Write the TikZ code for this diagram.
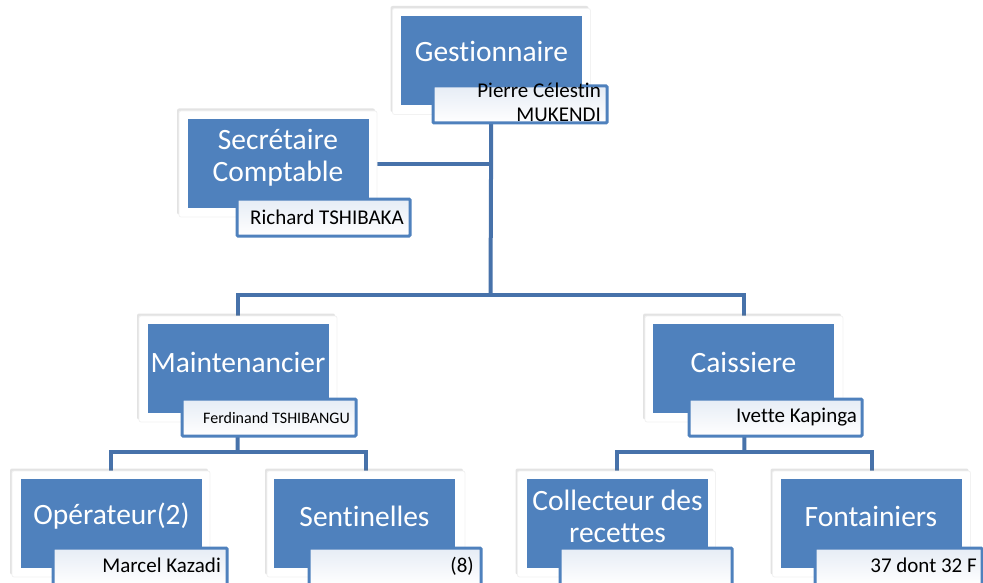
\documentclass[tikz,border=0pt]{standalone}
\usepackage{fontspec}
\setmainfont[Ligatures=NoCommon]{Carlito}
\usetikzlibrary{backgrounds,shadows}
\definecolor{boxblue}{HTML}{4F81BD}
\definecolor{connblue}{HTML}{4772AA}
\definecolor{namefill}{HTML}{E6ECF5}
\tikzset{
  frame/.style={rectangle, fill=white, draw=gray!10, line width=0.8pt, rounded corners=2pt,
    minimum width=198pt, minimum height=106pt, inner sep=0pt, outer sep=0pt,
    drop shadow={shadow xshift=-2pt, shadow yshift=2.5pt, opacity=0.18, fill=black!60}},
  bluebox/.style={rectangle, fill=boxblue, minimum width=181pt, minimum height=89pt, inner sep=0pt, outer sep=0pt},
  namebox/.style={rectangle, draw=boxblue, line width=3pt, top color=namefill, bottom color=white,
    minimum height=37pt, inner sep=0pt, outer sep=0pt, rounded corners=1pt},
  title/.style={text=white, align=center, font=\fontsize{29.5}{32}\selectfont, inner sep=0pt},
  person/.style={text=black, anchor=base east, align=right, font=\fontsize{21}{24}\selectfont, inner sep=0pt},
  conn/.style={draw=connblue, line width=4pt},
}
\begin{document}
\begin{tikzpicture}[x=1pt,y=-1pt]
\useasboundingbox (0,0) rectangle (983,583);
% Gestionnaire
\node[frame] (gF) at (491.5,61.5) {};
\node[bluebox] (gB) at (491.5,61) {};
\node[title] (gT) at (491.5,51) {Gestionnaire};
\node[namebox, minimum width=174pt] (gN) at (520,104.5) {};
\node[person] (gP) at (601,122) {Pierre Célestin\\MUKENDI};
% Secretaire
\node[frame] (sF) at (278,164) {};
\node[bluebox] (sB) at (278,163.5) {};
\node[title] (sT) at (278,158) {Secrétaire\\Comptable};
\node[namebox, minimum width=173pt] (sN) at (323.5,217.5) {};
\node[person] (sP) at (404,224) {Richard TSHIBAKA};
% Maintenancier
\node[frame] (mF) at (238,369) {};
\node[bluebox] (mB) at (238,368.5) {};
\node[title] (mT) at (238,362) {Maintenancier};
\node[namebox, minimum width=174pt] (mN) at (269,417.5) {};
\node[person, font=\fontsize{16}{19}\selectfont] (mP) at (350,423) {Ferdinand TSHIBANGU};
% Caissiere
\node[frame] (cF) at (744,369) {};
\node[bluebox] (cB) at (743.5,368.5) {};
\node[title] (cT) at (743.5,362) {Caissiere};
\node[namebox, minimum width=173pt] (cN) at (775.5,417.5) {};
\node[person] (cP) at (857,422) {Ivette Kapinga};
% Operateur
\node[frame] (oF) at (111,524) {};
\node[bluebox] (oB) at (111.5,523.5) {};
\node[title] (oT) at (111.5,516) {Opérateur(2)};
\node[namebox, minimum width=174pt] (oN) at (140,566.5) {};
\node[person] (oP) at (221,572) {Marcel Kazadi};
% Sentinelles
\node[frame] (seF) at (366,524) {};
\node[bluebox] (seB) at (364.5,523.5) {};
\node[title] (seT) at (364.5,516) {Sentinelles};
\node[namebox, minimum width=172pt] (seN) at (395,566.5) {};
\node[person] (seP) at (474,572) {(8)};
% Collecteur
\node[frame] (coF) at (616.5,524) {};
\node[bluebox] (coB) at (617.5,523.5) {};
\node[title] (coT) at (617.5,516) {Collecteur des\\recettes};
\node[namebox, minimum width=172pt] (coN) at (646,566.5) {};
% Fontainiers
\node[frame] (fF) at (871.5,524) {};
\node[bluebox] (fB) at (871,523.5) {};
\node[title] (fT) at (871,516) {Fontainiers};
\node[namebox, minimum width=167pt] (fN) at (898.5,566.5) {};
\node[person] (fP) at (977,572) {37 dont 32 F};
% connectors
\begin{pgfonlayer}{background}
\coordinate (jt) at (490.5,295);
\coordinate (jl) at (237.5,452);
\coordinate (jr) at (744.5,452);
\draw[conn] (gF.center) -- (jt);
\draw[conn] (sF.center) -- (sF.center -| jt);
\draw[conn] (mF.north) |- (jt) -| (cF.north);
\draw[conn] (mF.center) -- (jl);
\draw[conn] (cF.center) -- (jr);
\draw[conn] (oF.north) |- (jl) -| (seF.north);
\draw[conn] (coF.north) |- (jr) -| (fF.north);
\end{pgfonlayer}
\end{tikzpicture}
\end{document}
